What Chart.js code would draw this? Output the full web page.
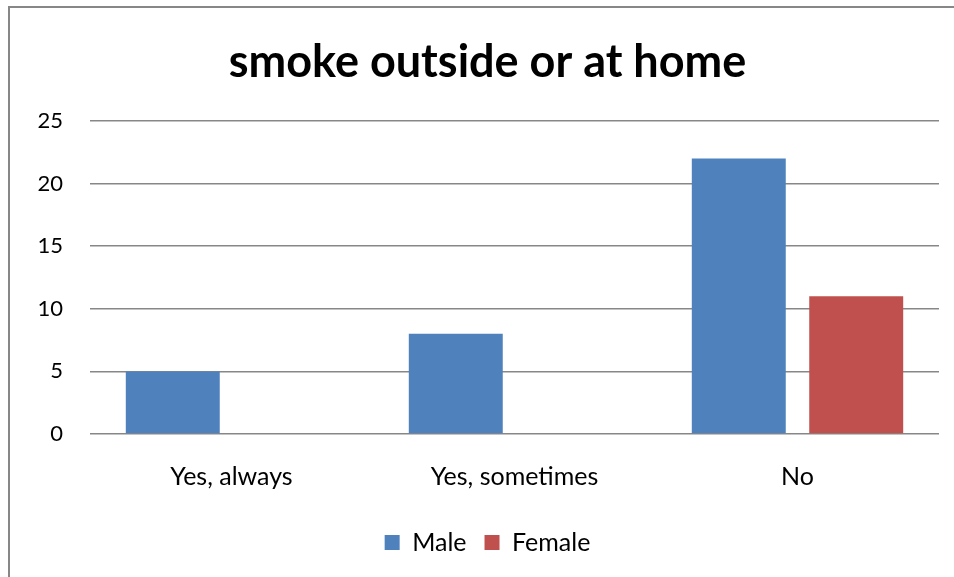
<!DOCTYPE html>
<html>
<head>
<meta charset="utf-8">
<script src="https://cdn.jsdelivr.net/npm/chart.js@4"></script>
<style>
    body { margin: 0; background: #fff; overflow: hidden; }
    #wrap { position: absolute; left: 0; top: 0; width: 954px; height: 577px; }
    #frame { position: absolute; left: 8px; top: 6px; width: 1000px; height: 1000px;
             border: 2px solid #878787; pointer-events: none; }
</style>
</head>
<body>
<div id="wrap"><canvas id="smokeChart"></canvas></div>
<div id="frame"></div>
<script>
const categories = ['Yes, always', 'Yes, sometimes', 'No'];
const maleCounts = [5, 8, 22];
const femaleCounts = [0, 0, 11];
const yTicks = [0, 5, 10, 15, 20, 25];

const font = "Lato, 'Open Sans', sans-serif";

const ctx = document.getElementById('smokeChart').getContext('2d');
new Chart(ctx, {
    type: 'bar',
    data: {
        labels: categories,
        datasets: [{
            label: 'Male',
            data: maleCounts,
            backgroundColor: '#4F81BD',
            borderWidth: 0
        }, {
            label: 'Female',
            data: femaleCounts,
            backgroundColor: '#C0504D',
            borderWidth: 0
        }]
    },
    options: {
        responsive: true,
        maintainAspectRatio: false,
        animation: false,
        categoryPercentage: 0.83,
        barPercentage: 0.8,
        layout: {
            padding: { left: 36, right: 15, top: 0, bottom: 12 }
        },
        plugins: {
            title: {
                display: true,
                text: 'smoke outside or at home',
                color: '#000',
                font: { family: font, size: 45, weight: 'bold' },
                padding: { top: 35, bottom: 32 }
            },
            legend: {
                position: 'bottom',
                labels: {
                    color: '#000',
                    font: { family: font, size: 25 },
                    boxWidth: 15,
                    boxHeight: 15,
                    padding: 18
                }
            },
            tooltip: { enabled: false }
        },
        scales: {
            x: {
                grid: { display: false },
                border: { display: false },
                ticks: {
                    color: '#000',
                    font: { family: font, size: 25 },
                    padding: 20
                }
            },
            y: {
                min: 0,
                max: 25,
                afterBuildTicks: axis => {
                    axis.ticks = yTicks.map(v => ({ value: v }));
                },
                // fixed width so the labels sit close to the left frame
                afterFit: axis => {
                    axis.width = 54;
                },
                grid: {
                    color: '#878787',
                    lineWidth: 1.5,
                    drawTicks: false
                },
                border: { display: false },
                ticks: {
                    color: '#000',
                    font: { family: font, size: 22 },
                    padding: 27
                }
            }
        }
    }
});
</script>
</body>
</html>
